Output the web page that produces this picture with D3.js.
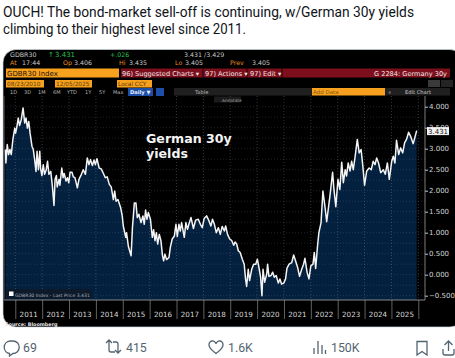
<!DOCTYPE html>
<html>
<head>
<meta charset="utf-8">
<script src="https://cdn.jsdelivr.net/npm/d3@7"></script>
<style>
    html, body { margin: 0; padding: 0; background: #fff; overflow: hidden; }
    svg { display: block; }
    text { font-family: 'Liberation Sans', sans-serif; }
    .term text, text.term { font-family: 'DejaVu Sans', sans-serif; }
</style>
</head>
<body>
<div id="chart1"></div>
<script>
// date as decimal year, yield in %
let dates = [
    2010.63, 2010.65, 2010.70, 2010.75, 2010.80, 2010.85, 2010.91, 2010.98, 2011.01, 2011.05, 2011.11, 2011.16, 2011.22, 2011.29, 2011.35, 2011.40,
    2011.45, 2011.50, 2011.55, 2011.62, 2011.67, 2011.72, 2011.77, 2011.81, 2011.86, 2011.91, 2011.94, 2011.99, 2012.04, 2012.09, 2012.15, 2012.20,
    2012.25, 2012.32, 2012.38, 2012.44, 2012.48, 2012.53, 2012.56, 2012.63, 2012.66, 2012.73, 2012.78, 2012.82, 2012.89, 2012.94, 2012.99, 2013.04,
    2013.11, 2013.16, 2013.22, 2013.31, 2013.37, 2013.46, 2013.53, 2013.61, 2013.68, 2013.74, 2013.80, 2013.87, 2013.93, 2013.98, 2014.04, 2014.12,
    2014.20, 2014.28, 2014.35, 2014.42, 2014.50, 2014.57, 2014.65, 2014.70, 2014.75, 2014.82, 2014.92, 2014.98, 2015.02, 2015.06, 2015.11, 2015.14,
    2015.21, 2015.31, 2015.36, 2015.39, 2015.43, 2015.49, 2015.54, 2015.60, 2015.68, 2015.75, 2015.80, 2015.85, 2015.90, 2015.95, 2016.03, 2016.10,
    2016.15, 2016.20, 2016.25, 2016.30, 2016.36, 2016.42, 2016.48, 2016.52, 2016.57, 2016.63, 2016.72, 2016.77, 2016.84, 2016.92, 2016.98, 2017.03,
    2017.09, 2017.14, 2017.19, 2017.29, 2017.35, 2017.41, 2017.46, 2017.54, 2017.63, 2017.71, 2017.81, 2017.89, 2017.96, 2018.03, 2018.12, 2018.21,
    2018.28, 2018.34, 2018.41, 2018.48, 2018.56, 2018.63, 2018.70, 2018.78, 2018.83, 2018.90, 2018.98, 2019.05, 2019.13, 2019.18, 2019.24, 2019.30,
    2019.37, 2019.45, 2019.52, 2019.57, 2019.61, 2019.67, 2019.72, 2019.80, 2019.87, 2019.95, 2020.01, 2020.08, 2020.13, 2020.18, 2020.22, 2020.28,
    2020.36, 2020.39, 2020.44, 2020.52, 2020.58, 2020.64, 2020.71, 2020.79, 2020.85, 2020.91, 2020.99, 2021.06, 2021.11, 2021.19, 2021.29, 2021.36,
    2021.43, 2021.51, 2021.58, 2021.66, 2021.73, 2021.78, 2021.86, 2021.93, 2022.00, 2022.08, 2022.13, 2022.18, 2022.25, 2022.30, 2022.38, 2022.45,
    2022.53, 2022.59, 2022.71, 2022.81, 2022.86, 2022.93, 2023.01, 2023.08, 2023.15, 2023.21, 2023.28, 2023.33, 2023.39, 2023.46, 2023.52, 2023.58,
    2023.65, 2023.73, 2023.80, 2023.87, 2023.93, 2024.00, 2024.08, 2024.17, 2024.25, 2024.32, 2024.39, 2024.45, 2024.52, 2024.60, 2024.70, 2024.77,
    2024.85, 2024.92, 2025.01, 2025.07, 2025.13, 2025.19, 2025.27, 2025.34, 2025.42, 2025.49, 2025.56, 2025.64, 2025.71, 2025.81, 2025.94
];
let yields = [
    2.98, 2.66, 3.10, 2.86, 2.98, 2.86, 3.22, 3.49, 3.37, 3.49, 3.73, 3.55, 3.69, 3.97, 3.61, 3.73,
    3.49, 3.65, 3.37, 3.06, 2.98, 2.74, 2.46, 2.94, 2.50, 2.94, 2.54, 2.36, 2.62, 2.39, 2.50, 2.70,
    2.39, 2.46, 2.11, 1.65, 2.27, 2.36, 2.09, 2.27, 2.13, 2.54, 2.31, 2.41, 2.23, 2.31, 2.19, 2.44,
    2.44, 2.33, 2.31, 2.07, 2.27, 2.39, 2.50, 2.39, 2.78, 2.62, 2.74, 2.60, 2.73, 2.62, 2.76, 2.54,
    2.52, 2.41, 2.31, 2.33, 2.15, 2.09, 1.79, 1.99, 1.75, 1.79, 1.60, 1.40, 1.16, 1.04, 0.89, 1.00,
    0.67, 0.45, 1.12, 1.36, 1.71, 1.71, 1.36, 1.44, 1.24, 1.40, 1.20, 1.54, 1.32, 1.48, 1.32, 0.89,
    1.07, 0.81, 1.00, 0.73, 0.96, 0.81, 0.45, 0.33, 0.49, 0.36, 0.41, 0.65, 0.85, 0.92, 1.20, 0.91,
    1.20, 1.04, 1.24, 0.89, 1.24, 1.08, 1.20, 1.36, 1.10, 1.30, 1.32, 1.20, 1.12, 1.34, 1.40, 1.28,
    1.16, 1.32, 1.20, 1.00, 1.12, 0.96, 1.15, 1.04, 1.16, 0.96, 0.85, 0.82, 0.70, 0.78, 0.73, 0.57,
    0.53, 0.37, 0.25, -0.10, -0.28, 0.13, -0.14, 0.13, 0.25, 0.25, 0.37, 0.13, -0.06, -0.50, 0.13, -0.18,
    0.02, 0.25, -0.04, -0.02, 0.06, -0.06, -0.02, -0.20, -0.10, -0.22, -0.20, -0.10, 0.15, 0.25, 0.29, 0.47,
    0.33, 0.17, -0.04, 0.13, 0.25, 0.39, 0.06, -0.10, 0.21, 0.25, 0.53, 0.15, 0.69, 1.00, 1.24, 1.99,
    1.60, 1.26, 1.87, 2.44, 2.03, 1.62, 2.27, 2.03, 2.68, 2.19, 2.50, 2.35, 2.66, 2.47, 2.70, 2.50,
    2.82, 3.22, 2.90, 2.98, 2.62, 2.13, 2.47, 2.54, 2.50, 2.70, 2.62, 2.78, 2.66, 2.43, 2.50, 2.39,
    2.66, 2.27, 2.70, 2.82, 2.66, 3.20, 2.86, 3.02, 2.90, 3.14, 3.22, 3.39, 3.30, 3.12, 3.431
];
let yearTicks = d3.range(2011, 2027);
let yearLabels = d3.range(2011, 2026);
let yTicks = [4, 3.5, 3, 2.5, 2, 1.5, 1, 0.5, 0, -0.5];
let gridTicks = d3.range(-0.5, 4.01, 0.25);
let lastPrice = 3.431;

let titleLines = [
    "OUCH! The bond-market sell-off is continuing, w/German 30y yields",
    "climbing to their highest level since 2011."
];
let titleWidths = [411, 243];
let rangeButtons = ["1D", "3D", "1M", "6M", "YTD", "1Y", "5Y", "Max"];
let rangeButtonX = [10, 24, 38, 53, 67, 85, 99, 113];
let rowTexts = [
    ["GDBR30", 10, 56.5, "#c9c9c9", 6.3], ["↑", 48, 56.5, "#27c24c", 7], ["3.431", 55, 56.5, "#27c24c", 7], ["+.026", 110, 56.5, "#27c24c", 6.3], ["3.431 /3.429", 184, 56.5, "#c9c9c9", 6.3],
    ["At", 10, 65, "#e8901c", 6.3], ["17:44", 22, 65, "#c9c9c9", 6.3], ["Op", 63, 65, "#e8901c", 6.3], ["3.406", 74, 65, "#c9c9c9", 6.3],
    ["Hi", 119, 65, "#e8901c", 6.3], ["3.435", 129, 65, "#c9c9c9", 6.3], ["Lo", 175, 65, "#e8901c", 6.3], ["3.405", 185, 65, "#c9c9c9", 6.3],
    ["Prev", 230, 65, "#e8901c", 6.3], ["3.405", 252, 65, "#c9c9c9", 6.3]
];
let redBarTexts = [
    ["96) Suggested Charts ▾", 122], ["97) Actions ▾", 205], ["97) Edit ▾", 250], ["G 2284: Germany 30y", 374]
];
let redBarGaps = [203, 247, 282];
let orangeFields = [
    ["08/23/2010", 6, 38], ["12/05/2025", 55, 37], ["Local CCY", 117, 35]
];

function terminalHeader(svg) {
    let g = svg.append("g").attr("class", "term");

    g.selectAll(".rowText")
        .data(rowTexts)
        .enter()
        .append("text")
        .attr("x", d => d[1])
        .attr("y", d => d[2])
        .attr("fill", d => d[3])
        .attr("font-size", d => d[4])
        .text(d => d[0]);

    g.append("rect").attr("x", 6).attr("y", 68.5).attr("width", 113).attr("height", 9).attr("fill", "#f7a11e");
    g.append("text").attr("x", 7).attr("y", 75.7).attr("font-size", 7).attr("fill", "#1a1206").text("GDBR30 Index");
    g.append("rect").attr("x", 121).attr("y", 68.5).attr("width", 329).attr("height", 9).attr("fill", "#7d0f1d");

    g.selectAll(".redGap")
        .data(redBarGaps)
        .enter()
        .append("line")
        .attr("x1", d => d).attr("x2", d => d)
        .attr("y1", 68.5).attr("y2", 77.5)
        .attr("stroke", "#000")
        .attr("stroke-width", 0.8);

    g.selectAll(".redText")
        .data(redBarTexts)
        .enter()
        .append("text")
        .attr("x", d => d[1])
        .attr("y", 75.5)
        .attr("fill", "#efe6e7")
        .attr("font-size", 6.6)
        .text(d => d[0]);

    g.selectAll(".fieldBox")
        .data(orangeFields)
        .enter()
        .append("rect")
        .attr("x", d => d[1])
        .attr("y", 80)
        .attr("width", d => d[2])
        .attr("height", 7.5)
        .attr("fill", "#f7a11e");
    g.selectAll(".fieldText")
        .data(orangeFields)
        .enter()
        .append("text")
        .attr("x", d => d[1] + 1)
        .attr("y", 86)
        .attr("fill", "#5a3a08")
        .attr("font-size", 5.8)
        .text(d => d[0]);

    g.selectAll(".rangeBtn")
        .data(rangeButtons)
        .enter()
        .append("text")
        .attr("x", (d, i) => rangeButtonX[i])
        .attr("y", 94)
        .attr("fill", "#b5b5b5")
        .attr("font-size", 5)
        .text(d => d);

    g.append("rect").attr("x", 128).attr("y", 88).attr("width", 25).attr("height", 8).attr("fill", "#1d4fa8");
    g.append("text").attr("x", 130).attr("y", 94).attr("font-size", 5.2).attr("font-weight", "bold").attr("fill", "#e6ecf8").text("Daily ▼");
    g.append("rect").attr("x", 156).attr("y", 88).attr("width", 8).attr("height", 8).attr("fill", "#1d4fa8");

    g.append("rect").attr("x", 174).attr("y", 88).attr("width", 138).attr("height", 7.5).attr("fill", "#202020");
    g.append("text").attr("x", 195).attr("y", 94).attr("font-size", 5.2).attr("fill", "#b5b5b5").text("Table");
    g.append("rect").attr("x", 312).attr("y", 88).attr("width", 73).attr("height", 7.5).attr("fill", "#f7a11e");
    g.append("text").attr("x", 313).attr("y", 94).attr("font-size", 5.5).attr("fill", "#8a5a10").text("Add Data");
    g.append("rect").attr("x", 385).attr("y", 88).attr("width", 65).attr("height", 7.5).attr("fill", "#202020");
    g.append("text").attr("x", 388).attr("y", 94).attr("font-size", 5.2).attr("fill", "#c9c9c9").text("«");
    g.append("text").attr("x", 405).attr("y", 94).attr("font-size", 5.2).attr("fill", "#c9c9c9").text("Edit Chart");
    g.append("rect").attr("x", 428).attr("y", 80).attr("width", 12).attr("height", 7).attr("fill", "#3a3a3a");
    g.append("rect").attr("x", 441).attr("y", 80).attr("width", 12).attr("height", 7).attr("fill", "#242424");
    g.append("rect").attr("x", 214).attr("y", 96.5).attr("width", 27).attr("height", 6).attr("fill", "#1c1c1c");
    g.append("text").attr("x", 222).attr("y", 101.5).attr("font-size", 4.3).attr("fill", "#a0a0a0").text("Annotate");
}

function lineChart(selector) {
    let svg = d3.select(selector)
        .append("svg")
        .attr("width", 455)
        .attr("height", 358);

    svg.selectAll(".titleLine")
        .data(titleLines)
        .enter()
        .append("text")
        .attr("x", 3)
        .attr("y", (d, i) => 16.5 + i * 17.5)
        .attr("fill", "#0f1419")
        .attr("font-size", 14.2)
        .attr("textLength", (d, i) => titleWidths[i])
        .attr("lengthAdjust", "spacingAndGlyphs")
        .style("font-family", "Roboto, sans-serif")
        .text(d => d);

    // terminal panel
    svg.append("rect")
        .attr("x", 3).attr("y", 49.5)
        .attr("width", 460).attr("height", 277.5)
        .attr("rx", 13)
        .attr("fill", "#000")
        .attr("stroke", "#cfd9de")
        .attr("stroke-width", 0.7);

    terminalHeader(svg);

    let x = d3.scaleLinear()
        .domain([2011, 2026])
        .range([15.3, 418.3]);
    let y = d3.scaleLinear()
        .domain([-0.5, 4])
        .range([295.7, 106.7]);
    let plotLeft = 4, plotRight = 425, plotTop = 96, plotBottom = 300;

    let area = d3.area()
        .x((d, i) => x(dates[i]))
        .y0(plotBottom)
        .y1(d => y(d));
    let line = d3.line()
        .x((d, i) => x(dates[i]))
        .y(d => y(d));

    svg.append("path")
        .datum(yields)
        .attr("d", area)
        .attr("fill", "#04203f");

    // dotted grid goes over the fill
    svg.selectAll(".hgrid")
        .data(gridTicks)
        .enter()
        .append("line")
        .attr("x1", plotLeft).attr("x2", plotRight)
        .attr("y1", d => y(d)).attr("y2", d => y(d))
        .attr("stroke", "#8a9ab0")
        .attr("stroke-opacity", 0.28)
        .attr("stroke-width", 0.8)
        .attr("stroke-dasharray", "1,2");
    svg.selectAll(".vgrid")
        .data(yearTicks)
        .enter()
        .append("line")
        .attr("x1", d => x(d)).attr("x2", d => x(d))
        .attr("y1", plotTop).attr("y2", plotBottom)
        .attr("stroke", "#9aa6b5")
        .attr("stroke-opacity", 0.4)
        .attr("stroke-width", 0.8)
        .attr("stroke-dasharray", "1,2");

    svg.append("path")
        .datum(yields)
        .attr("d", line)
        .attr("fill", "none")
        .attr("stroke", "#f4f4f4")
        .attr("stroke-width", 1.5)
        .attr("stroke-linejoin", "round");

    // bottom axis, ticks on the year boundaries and labels in between
    let xAxis = svg.append("g")
        .attr("class", "term")
        .attr("transform", "translate(0," + plotBottom + ")")
        .call(d3.axisBottom(x).tickValues(yearTicks).tickSize(19).tickFormat(""));
    xAxis.select(".domain").remove();
    xAxis.selectAll("line").attr("stroke", "#8c8c8c").attr("stroke-width", 0.7);
    svg.append("line")
        .attr("x1", plotLeft).attr("x2", plotRight)
        .attr("y1", plotBottom).attr("y2", plotBottom)
        .attr("stroke", "#a8a8a8")
        .attr("stroke-width", 0.8);
    svg.append("line")
        .attr("x1", plotLeft).attr("x2", plotLeft)
        .attr("y1", plotTop).attr("y2", plotBottom)
        .attr("stroke", "#6e6e6e")
        .attr("stroke-width", 0.8);
    svg.selectAll(".yearLabel")
        .data(yearLabels)
        .enter()
        .append("text")
        .attr("class", "term")
        .attr("x", d => x(d + 0.5))
        .attr("y", 317)
        .attr("text-anchor", "middle")
        .attr("fill", "#d6d6d6")
        .attr("font-size", 7.2)
        .text(d => d);

    // right axis
    let yAxis = svg.append("g")
        .attr("class", "term")
        .attr("transform", "translate(" + plotRight + ",0)")
        .call(d3.axisRight(y).tickValues(yTicks).tickSize(3).tickPadding(1).tickFormat(d3.format(".3f")));
    yAxis.select(".domain").remove();
    yAxis.selectAll("line").attr("stroke", "#c8c8c8");
    yAxis.selectAll("text")
        .attr("fill", "#d6d6d6")
        .attr("font-size", 7);
    svg.append("line")
        .attr("x1", plotRight).attr("x2", plotRight)
        .attr("y1", plotTop).attr("y2", plotBottom)
        .attr("stroke", "#9a9a9a")
        .attr("stroke-width", 0.8);

    // last price flag, it covers most of the 3.500 label as in the original
    svg.append("rect")
        .attr("x", 427).attr("y", y(lastPrice) - 3.5)
        .attr("width", 22).attr("height", 8)
        .attr("fill", "#f2f2f2");
    svg.append("text")
        .attr("class", "term")
        .attr("x", 428).attr("y", y(lastPrice) + 3)
        .attr("fill", "#111")
        .attr("font-size", 7)
        .text(d3.format(".3f")(lastPrice));

    // annotation
    svg.selectAll(".note")
        .data(["German 30y", "yields"])
        .enter()
        .append("text")
        .attr("x", 146)
        .attr("y", (d, i) => 143 + i * 14.5)
        .attr("fill", "#f4f4f4")
        .attr("font-size", 12.6)
        .attr("font-weight", "bold")
        .style("font-family", "'DejaVu Sans', sans-serif")
        .text(d => d);

    // legend
    svg.append("rect")
        .attr("x", 6).attr("y", 289)
        .attr("width", 86).attr("height", 10)
        .attr("fill", "#0c1a2b");
    svg.append("rect")
        .attr("x", 9).attr("y", 291.5)
        .attr("width", 4.5).attr("height", 4.5)
        .attr("fill", "#fff");
    svg.append("text")
        .attr("class", "term")
        .attr("x", 15).attr("y", 296.5)
        .attr("fill", "#a9b2bd")
        .attr("font-size", 4.6)
        .text("GDBR30 Index - Last Price 3.431");

    svg.append("text")
        .attr("class", "term")
        .attr("x", 5).attr("y", 325.5)
        .attr("fill", "#e8e8e8")
        .attr("font-size", 4.9)
        .attr("font-weight", "bold")
        .text("Source: Bloomberg");

    footer(svg);
}

function footer(svg) {
    let stats = [["69", 23], ["415", 126], ["1.6K", 228], ["150K", 331]];
    let g = svg.append("g").attr("stroke", "#536471").attr("stroke-width", 1.3).attr("fill", "none");

    // reply
    g.append("path").attr("d", "M10 341h3a6 6 0 0 1 0 12.5l-3.500 2.500v-2.500a6.300 6.300 0 0 1 0.500-12.500z");
    // repost
    g.append("path").attr("d", "M106 343l3-3 3 3M109 340v10a2 2 0 0 0 2 2h4M113 342h3a2 2 0 0 1 2 2v9M115 350l3 3 3-3");
    // like
    g.append("path").attr("d", "M216 353.500c-4-3-7-5.500-7-8.500a3.500 3.500 0 0 1 7-1a3.500 3.500 0 0 1 7 1c0 3-3 5.500-7 8.500z");
    // views
    g.append("path").attr("d", "M314 354v-6M318 354v-13M322 354v-9M325.500 354v-4");
    // bookmark
    g.append("path").attr("d", "M417 341.500h10v13.500l-5-3.500-5 3.500z");
    // share
    g.append("path").attr("d", "M443 349v4a2 2 0 0 0 2 2h7a2 2 0 0 0 2-2v-4M448.500 351v-10M444.500 345l4-4 4 4");

    svg.selectAll(".stat")
        .data(stats)
        .enter()
        .append("text")
        .attr("x", d => d[1])
        .attr("y", 352)
        .attr("fill", "#536471")
        .attr("font-size", 12.3)
        .style("font-family", "Roboto, sans-serif")
        .text(d => d[0]);
}

lineChart("#chart1");
</script>
</body>
</html>
